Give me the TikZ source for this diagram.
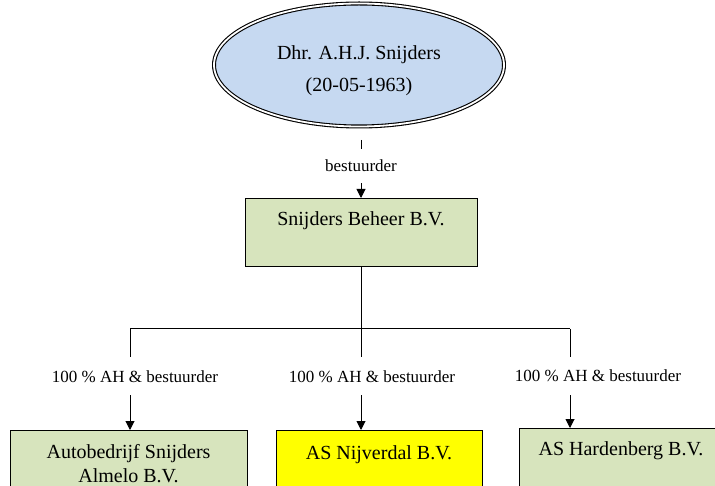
\documentclass[tikz,border=0pt]{standalone}
\usepackage{fontspec}
\setmainfont{Liberation Serif}
\usetikzlibrary{shapes.geometric,arrows.meta}
\definecolor{ownerblue}{HTML}{C6D9F1}
\definecolor{bvgreen}{HTML}{D7E4BD}
\definecolor{bvyellow}{HTML}{FFFF00}
\newcommand{\bigtext}{\fontsize{20}{24}\selectfont}
\newcommand{\smalltext}{\fontsize{17}{20}\selectfont}

\begin{document}
\begin{tikzpicture}[x=1pt,y=-1pt,
  bv/.style={draw, line width=1pt, fill=bvgreen, font=\bigtext, align=center,
    inner xsep=4pt, inner ysep=10pt, text height=19pt, text depth=29pt, anchor=north},
  share/.style={fill=white, font=\smalltext, inner xsep=1pt, inner ysep=13pt},
  conn/.style={line width=1pt},
  arr/.style={conn, -{Triangle[width=9pt,length=9pt]}}]
 \clip (0,0) rectangle (715,486);

 % owner
 \node[ellipse, draw, double, double distance=1.8pt, line width=1.1pt, fill=ownerblue,
   minimum width=290pt, minimum height=123pt, inner sep=0pt, align=center,
   text height=58pt, text depth=5pt,
   font=\fontsize{20}{32}\selectfont] (owner) at (359,65) {Dhr. A.H.J. Snijders\\(20-05-1963)};

 % holding
 \node[bv, minimum width=232pt, text height=17pt, text depth=31pt] (beheer) at (361,198) {Snijders Beheer B.V.};

 % daughters
 \node[bv, minimum width=237pt, text height=42pt, text depth=6pt] (almelo) at (128.5,430) {Autobedrijf Snijders\\Almelo B.V.};
 \node[bv, minimum width=206pt, fill=bvyellow] (nijverdal) at (379,430) {AS Nijverdal B.V.};
 \node[bv, minimum width=204pt, inner ysep=8pt] (hardenberg) at (621,428) {AS Hardenberg B.V.};

 % connectors
 \coordinate (from) at (361,140);
 \draw[arr] (from) -- node[share, inner ysep=11pt, pos=0.45] {bestuurder} (beheer.north);
 \coordinate (split) at (361,329);
 \coordinate (left) at (130,329);
 \coordinate (right) at (570,329);
 \draw[conn] (beheer.south) -- (split);
 \draw[conn] (left) -- (right);
 \draw[arr] (left) -- node[share, pos=0.47, xshift=5pt] {100 \% AH \& bestuurder} (left |- almelo.north);
 \draw[arr] (split) -- node[share, pos=0.47, xshift=11pt] {100 \% AH \& bestuurder} (split |- nijverdal.north);
 \draw[arr] (right) -- node[share, pos=0.47, xshift=28pt] {100 \% AH \& bestuurder} (right |- hardenberg.north);

\end{tikzpicture}
\end{document}
